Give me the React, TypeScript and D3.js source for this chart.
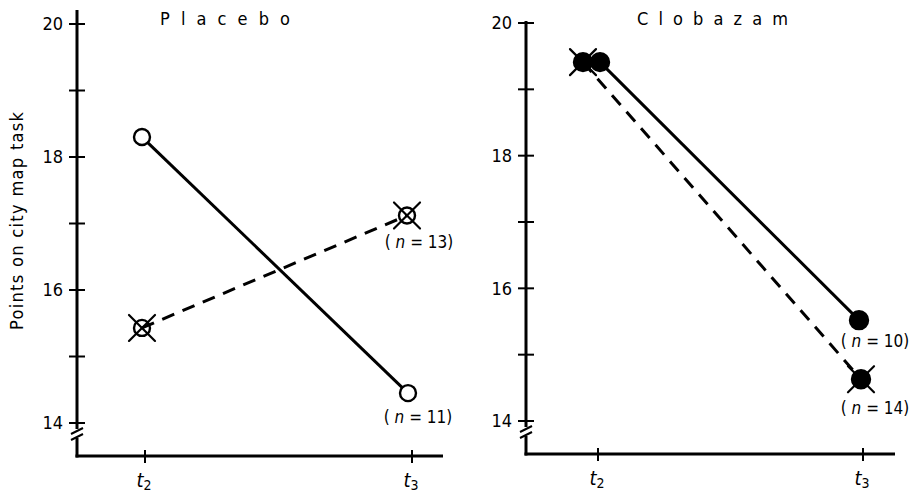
import React from "react";
import * as d3 from "d3";

// Time points and scores on the city map task
const timepoints = ["t2", "t3"];
const placeboSolid = [18.3, 14.45]; // n = 11
const placeboDashed = [15.43, 17.12]; // n = 13
const clobazamSolid = [19.41, 15.52]; // n = 10
const clobazamDashed = [19.41, 14.63]; // n = 14
const yTicks = [14, 15, 16, 17, 18, 19, 20];
const yTickLabels = [14, 16, 18, 20];
const panelTitles = ["Placebo", "Clobazam"];
const groupSizes = [[11, 13], [10, 14]];

const FONT = "'DejaVu Sans Condensed', 'DejaVu Sans', sans-serif";

type Marker = "open" | "openCross" | "filled" | "filledCross";

interface Series {
  values: number[];
  dashed: boolean;
  marker: Marker;
  n: number;
  dodge: number[]; // horizontal nudge per point so overlapping markers stay visible
  labelOffset: [number, number];
}

interface Panel {
  title: string;
  titleStart: number;
  titleWidth: number;
  axisX: number;
  axisTop: number;
  baseY: number;
  y14: number;
  y20: number;
  xRange: [number, number];
  xEnd: number;
  series: Series[];
}

const panels: Panel[] = [
  {
    title: panelTitles[0],
    titleStart: 160,
    titleWidth: 130,
    axisX: 77,
    axisTop: 10,
    baseY: 456,
    y14: 423,
    y20: 24,
    xRange: [145, 412],
    xEnd: 443,
    series: [
      { values: placeboSolid, dashed: false, marker: "open", n: groupSizes[0][0], dodge: [-3, -4], labelOffset: [10, 24] },
      { values: placeboDashed, dashed: true, marker: "openCross", n: groupSizes[0][1], dodge: [-3, -5], labelOffset: [12, 26] },
    ],
  },
  {
    title: panelTitles[1],
    titleStart: 637,
    titleWidth: 151,
    axisX: 526,
    axisTop: 21,
    baseY: 454,
    y14: 421,
    y20: 23,
    xRange: [598, 863],
    xEnd: 895,
    series: [
      { values: clobazamSolid, dashed: false, marker: "filled", n: groupSizes[1][0], dodge: [2, -4], labelOffset: [16, 21] },
      { values: clobazamDashed, dashed: true, marker: "filledCross", n: groupSizes[1][1], dodge: [-15, -2], labelOffset: [14, 29] },
    ],
  },
];

function MarkerShape({ x, y, type }: { x: number; y: number; type: Marker }) {
  const r = type === "open" || type === "openCross" ? 8 : 9;
  const filled = type === "filled" || type === "filledCross";
  const cross = type === "openCross" || type === "filledCross";
  const c = 13;
  return (
    <g>
      {cross && (
        <g stroke="#000" strokeWidth={2.2} strokeLinecap="round">
          <line x1={x - c} y1={y - c} x2={x + c} y2={y + c} />
          <line x1={x - c} y1={y + c} x2={x + c} y2={y - c} />
        </g>
      )}
      <circle cx={x} cy={y} r={r} fill={filled ? "#000" : cross ? "none" : "#fff"} stroke="#000" strokeWidth={2.4} />
    </g>
  );
}

function PanelView({ p }: { p: Panel }) {
  const y = d3.scaleLinear().domain([14, 20]).range([p.y14, p.y20]);
  const x = d3.scalePoint<string>().domain(timepoints).range(p.xRange).padding(0);
  const breakY = p.y14 + 11;
  return (
    <g>
      {/* y axis with a break below 14 */}
      <line x1={p.axisX} y1={p.axisTop} x2={p.axisX} y2={breakY - 5} stroke="#000" strokeWidth={3} />
      <line x1={p.axisX} y1={breakY + 4} x2={p.axisX} y2={p.baseY + 1.5} stroke="#000" strokeWidth={3} />
      <g stroke="#000" strokeWidth={2}>
        <line x1={p.axisX - 6} y1={breakY} x2={p.axisX + 6} y2={breakY - 6} />
        <line x1={p.axisX - 6} y1={breakY + 6} x2={p.axisX + 6} y2={breakY} />
      </g>
      {yTicks.map((t) => (
        <line key={t} x1={p.axisX - 8} x2={p.axisX + 8} y1={y(t)} y2={y(t)} stroke="#000" strokeWidth={2} />
      ))}
      {yTickLabels.map((t) => (
        <text key={t} x={p.axisX - 14} y={y(t)} dy="0.36em" textAnchor="end" fontSize={18} fontFamily={FONT}>
          {t}
        </text>
      ))}
      {/* x axis */}
      <line x1={p.axisX - 1.5} y1={p.baseY} x2={p.xEnd} y2={p.baseY} stroke="#000" strokeWidth={3} />
      {timepoints.map((t) => (
        <g key={t}>
          <line x1={x(t)} x2={x(t)} y1={p.baseY - 6} y2={p.baseY + 7} stroke="#000" strokeWidth={2} />
          <text x={(x(t) as number) - 1} y={p.baseY + 31} textAnchor="middle" fontSize={20} fontFamily={FONT}>
            <tspan fontStyle="italic">t</tspan>
            <tspan fontSize={14} dy={3}>{t.slice(1)}</tspan>
          </text>
        </g>
      ))}
      {/* title */}
      <text
        x={p.titleStart}
        y={25}
        fontSize={18}
        fontFamily={FONT}
        textLength={p.titleWidth}
        lengthAdjust="spacing"
      >
        {p.title}
      </text>
      {/* series */}
      {p.series.map((s, si) => {
        const pts = s.values.map((v, i) => [(x(timepoints[i]) as number) + s.dodge[i], y(v)] as [number, number]);
        const line = d3.line()(pts) as string;
        const last = pts[pts.length - 1];
        const lx = last[0] + s.labelOffset[0];
        return (
          <g key={si}>
            <path
              d={line}
              fill="none"
              stroke="#000"
              strokeWidth={3}
              strokeDasharray={s.dashed ? "13 9" : undefined}
            />
            {pts.map((pt, i) => (
              <MarkerShape key={i} x={pt[0]} y={pt[1]} type={s.marker} />
            ))}
            <text
              x={lx}
              y={last[1] + s.labelOffset[1]}
              dy="0.36em"
              textAnchor="middle"
              fontSize={17}
              fontFamily={FONT}
              xmlSpace="preserve"
              style={{ whiteSpace: "pre" }}
            >
              <tspan>{"( "}</tspan>
              <tspan fontStyle="italic">n</tspan>
              <tspan>{` = ${s.n})`}</tspan>
            </text>
          </g>
        );
      })}
    </g>
  );
}

export default function App() {
  return (
    <svg
      width={911}
      height={497}
      viewBox="0 0 911 497"
      style={{ position: "absolute", left: 0, top: 0, background: "#fff" }}
    >
      <rect width={911} height={497} fill="#fff" />
      <text
        transform="translate(23,330) rotate(-90)"
        fontSize={18}
        fontFamily={FONT}
        textLength={218}
        lengthAdjust="spacing"
      >
        Points on city map task
      </text>
      {panels.map((p, i) => (
        <PanelView key={i} p={p} />
      ))}
    </svg>
  );
}
